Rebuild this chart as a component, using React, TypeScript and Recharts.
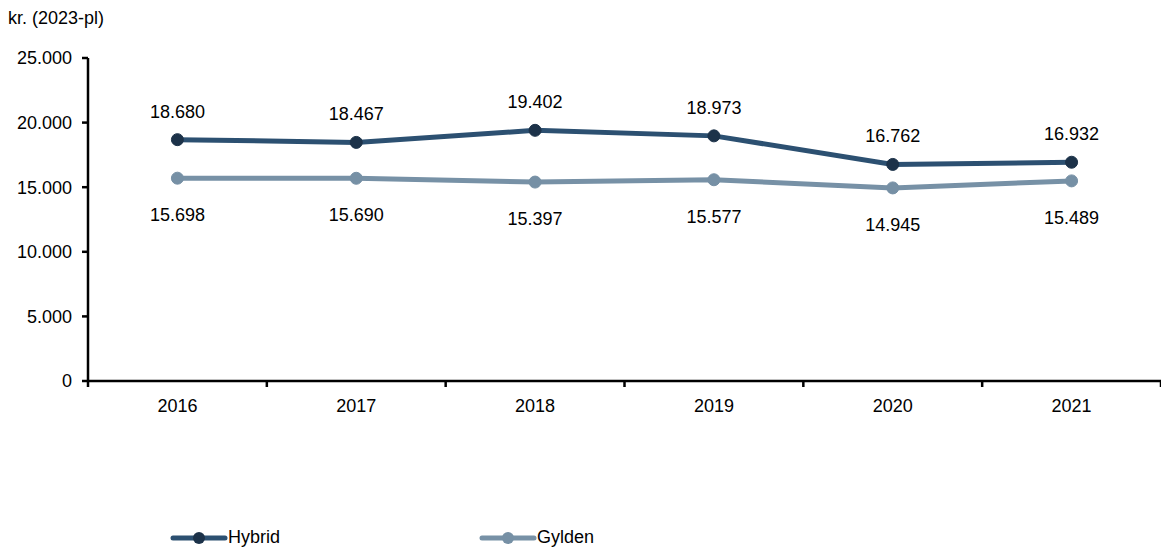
import { LineChart, Line, XAxis, YAxis, LabelList } from 'recharts';

const years = ['2016', '2017', '2018', '2019', '2020', '2021'];
const hybrid = [18680, 18467, 19402, 18973, 16762, 16932];
const gylden = [15698, 15690, 15397, 15577, 14945, 15489];
const yTicks = [0, 5000, 10000, 15000, 20000, 25000];

const HYBRID_LINE = '#2c5071';
const HYBRID_DOT = '#1c3249';
const GYLDEN_LINE = '#7791a6';
const GYLDEN_DOT = '#7690a5';
const FONT = '"Liberation Sans", Arial, sans-serif';
const TICK_SIZE = 6;
const TICK_MARGIN = 12;

const chartData = years.map((year, i) => ({ year, hybrid: hybrid[i], gylden: gylden[i] }));

const fmt = (v: number) => String(v).replace(/\B(?=(\d{3})+(?!\d))/g, '.');

const legendItems = [
  { name: 'Hybrid', line: HYBRID_LINE, dot: HYBRID_DOT },
  { name: 'Gylden', line: GYLDEN_LINE, dot: GYLDEN_DOT },
];

const CustomLegend = () => (
  <div style={{ display: 'flex', fontFamily: FONT, fontSize: 18, color: '#000' }}>
    {legendItems.map((item) => (
      <div key={item.name} style={{ display: 'flex', alignItems: 'center', width: 309 }}>
        <svg width={58} height={14}>
          <line x1={3} y1={7} x2={55} y2={7} stroke={item.line} strokeWidth={5} strokeLinecap="round" />
          <circle cx={29} cy={7} r={6} fill={item.dot} />
        </svg>
        <span>{item.name}</span>
      </div>
    ))}
  </div>
);

// category label plus tick marks on the band edges
const YearTick = ({ x, y, payload, index, visibleTicksCount }: any) => {
  const axisY = y - TICK_SIZE - TICK_MARGIN;
  const half = payload.offset || 0;
  const isLast = index === (visibleTicksCount ?? years.length) - 1;
  return (
    <g>
      <line x1={x - half} y1={axisY} x2={x - half} y2={axisY + TICK_SIZE} stroke="#000" strokeWidth={2.5} />
      {isLast && (
        <line x1={x + half} y1={axisY} x2={x + half} y2={axisY + TICK_SIZE} stroke="#000" strokeWidth={2.5} />
      )}
      <text x={x} y={y} dy="0.71em" textAnchor="middle" fill="#000" fontSize={18} fontFamily={FONT}>
        {payload.value}
      </text>
    </g>
  );
};

const App = () => {
  return (
    <div style={{ position: 'absolute', left: 0, top: 0, width: 1161, height: 549, background: '#fff', fontFamily: FONT }}>
      <div style={{ position: 'absolute', left: 8, top: 8, fontSize: 18, color: '#000' }}>kr. (2023-pl)</div>
      <LineChart width={1161} height={549} data={chartData} margin={{ top: 58, right: 0, left: 8, bottom: 128 }}>
        <XAxis
          dataKey="year"
          scale="band"
          axisLine={{ stroke: '#000', strokeWidth: 2.5 }}
          tickLine={false}
          tickSize={TICK_SIZE}
          tickMargin={TICK_MARGIN}
          height={40}
          interval={0}
          tick={<YearTick />}
        />
        <YAxis
          domain={[0, 25000]}
          ticks={yTicks}
          width={80}
          tickFormatter={fmt}
          axisLine={{ stroke: '#000', strokeWidth: 2.5 }}
          tickLine={{ stroke: '#000', strokeWidth: 2.5 }}
          tickSize={TICK_SIZE}
          tickMargin={10}
          tick={{ fill: '#000', fontSize: 18, fontFamily: FONT }}
        />
        <Line
          dataKey="hybrid"
          name="Hybrid"
          stroke={HYBRID_LINE}
          strokeWidth={5}
          dot={{ r: 6, fill: HYBRID_DOT, stroke: HYBRID_DOT, strokeWidth: 1 }}
          activeDot={false}
          isAnimationActive={false}
        >
          <LabelList dataKey="hybrid" position="top" offset={22} formatter={(v: any) => fmt(v)} fill="#000" fontSize={18} fontFamily={FONT} />
        </Line>
        <Line
          dataKey="gylden"
          name="Gylden"
          stroke={GYLDEN_LINE}
          strokeWidth={5}
          dot={{ r: 6, fill: GYLDEN_DOT, stroke: GYLDEN_DOT, strokeWidth: 1 }}
          activeDot={false}
          isAnimationActive={false}
        >
          <LabelList dataKey="gylden" position="bottom" offset={30} formatter={(v: any) => fmt(v)} fill="#000" fontSize={18} fontFamily={FONT} />
        </Line>
      </LineChart>
      <div style={{ position: 'absolute', left: 170, top: 527, width: 700 }}>
        <CustomLegend />
      </div>
    </div>
  );
};

export default App;
